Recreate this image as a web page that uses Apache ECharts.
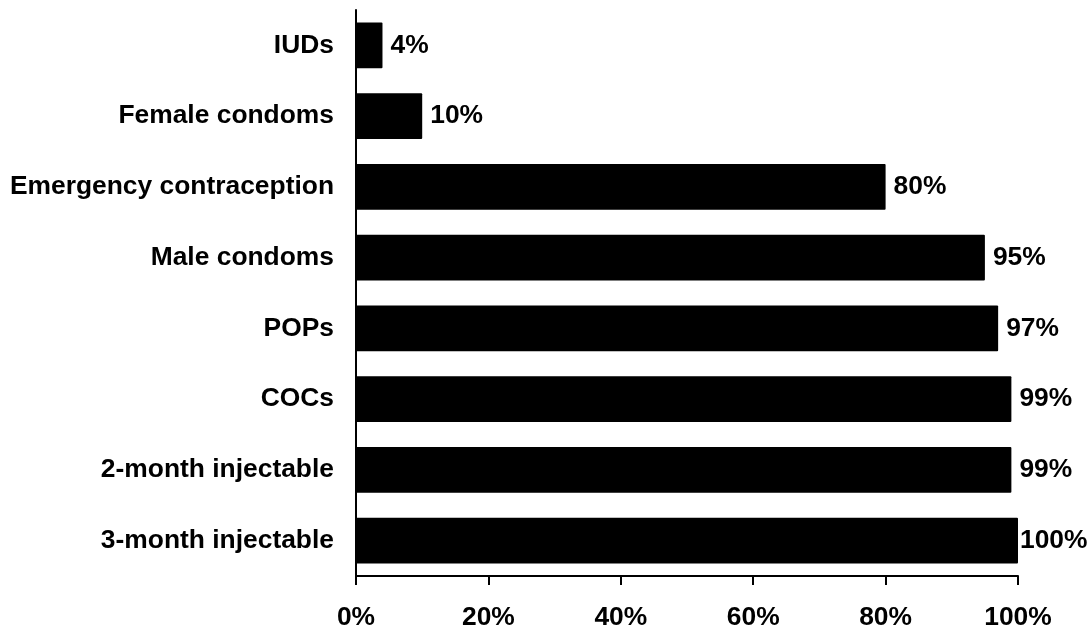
<!DOCTYPE html>
<html><head><meta charset="utf-8">
<script src="https://cdn.jsdelivr.net/npm/echarts@6/dist/echarts.min.js"></script>
<style>html,body{margin:0;padding:0;background:#fff}#c{width:1088px;height:631px}</style>
</head><body><div id="c"></div>
<script>
const categories = ["3-month injectable","2-month injectable","COCs","POPs","Male condoms","Emergency contraception","Female condoms","IUDs"];
const values = [100,99,99,97,95,80,10,4];
const tickLabels = ["0%","20%","40%","60%","80%","100%"];

const chart = echarts.init(document.getElementById('c'));
const font = {fontFamily:'Liberation Sans, Arial, sans-serif', fontWeight:'bold', fontSize:26.4, color:'#000'};
chart.setOption({
  animation:false,
  grid:{left:356,right:70,top:10,bottom:55,containLabel:false},
  xAxis:{type:'value',min:0,max:100,interval:20,
    axisLine:{show:true,lineStyle:{color:'#000',width:2}},
    axisTick:{show:true,length:9,lineStyle:{color:'#000',width:2}},
    splitLine:{show:false},
    axisLabel:Object.assign({margin:29,formatter:(v)=>tickLabels[Math.round(v/20)]},font)},
  yAxis:{type:'category',data:categories,
    axisLine:{show:true,lineStyle:{color:'#000',width:2}},
    axisTick:{show:false},
    axisLabel:Object.assign({margin:22},font)},
  series:[{type:'bar',barCategoryGap:'35%',
    data:values.map(v=>({value:v,label:{distance:v>=100?2:8}})),
    itemStyle:{color:'#000',borderRadius:1},
    label:Object.assign({show:true,position:'right',formatter:'{c}%'},font)}]
});
</script></body></html>
